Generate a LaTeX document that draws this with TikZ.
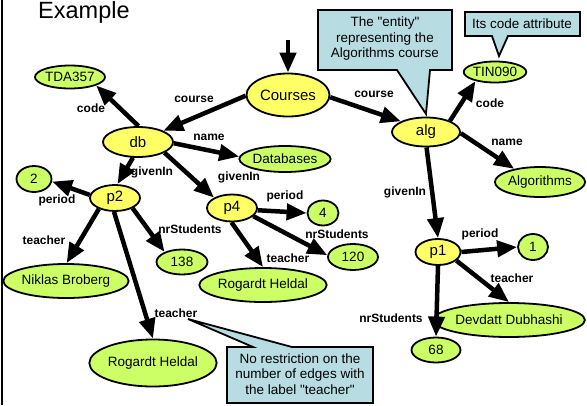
\documentclass[tikz,border=0pt]{standalone}
\usepackage{fontspec}
\setmainfont{Liberation Sans}
\newfontfamily\qf{Liberation Sans}
\usetikzlibrary{arrows.meta,shapes.geometric}
\definecolor{yel}{HTML}{FFFF66}
\definecolor{grn}{HTML}{CCFF66}
\definecolor{callc}{HTML}{B7DDE3}
\begin{document}
\begin{tikzpicture}[x=1pt,y=-1pt,
  ent/.style={ellipse, draw, line width=1.8pt, fill=yel, inner sep=0pt, font=\fontsize{15}{17}\selectfont},
  val/.style={ellipse, draw, line width=1.8pt, fill=grn, inner sep=0pt, font=\fontsize{13.5}{15}\selectfont},
  lab/.style={font=\bfseries\fontsize{12}{14}\selectfont, inner sep=0pt},
  edge/.style={line width=4.5pt, -{Triangle[length=20pt,width=16pt]}},
  callout/.style={draw, line width=1.8pt, fill=callc, line join=miter},
  ctext/.style={align=center, font=\qf\fontsize{13.5}{15.5}\selectfont, inner sep=0pt}]
\useasboundingbox (0,0) rectangle (587,405);
\fill[white] (0,0) rectangle (587,405);
\draw[line width=2pt] (2,0) -- (2,405);
\node[anchor=base west, font=\fontsize{23.5}{26}\selectfont, inner sep=0pt] (title) at (38,18) {Example};

% callouts
\path[callout] (318,10) -- (452,10) -- (452,70) -- (430,70) -- (426,114) -- (397,70) -- (318,70) -- cycle;
\node[ctext] (entitytxt) at (385,39) {The "entity"\\representing the\\Algorithms course};
\path[callout] (465,12) -- (580,12) -- (580,36) -- (508,36) -- (499,56) -- (492,36) -- (465,36) -- cycle;
\node[ctext] (codetxt) at (522,24) {Its code attribute};
\path[callout] (227,347) -- (253,347) -- (188,319) -- (292,347) -- (373,347) -- (373,403) -- (227,403) -- cycle;
\node[ctext] (teachtxt) at (300,374) {No restriction on the\\number of edges with\\the label "teacher"};

% nodes
\coordinate (top) at (288,40);
\node[ent, minimum width=83pt, minimum height=43pt] (C) at (288,95) {Courses};
\node[ent, minimum width=70pt, minimum height=30pt] (db) at (138,142) {db};
\node[val, minimum width=68pt, minimum height=23pt] (TDA) at (70,77) {TDA357};
\node[val, minimum width=80pt, minimum height=26pt] (DBs) at (285,159) {Databases};
\node[ent, minimum width=50pt, minimum height=26pt] (p2) at (115,198) {p2};
\node[val, minimum width=35pt, minimum height=26pt] (two) at (34,179) {2};
\node[ent, minimum width=50pt, minimum height=27pt] (p4) at (232,208) {p4};
\node[val, minimum width=31pt, minimum height=25pt] (four) at (323,213) {4};
\node[val, minimum width=50pt, minimum height=26pt] (n120) at (353,257) {120};
\node[val, minimum width=103pt, minimum height=34pt] (RH1) at (263,285) {Rogardt Heldal};
\node[val, minimum width=98pt, minimum height=34pt] (NB) at (66,281) {Niklas Broberg};
\node[val, minimum width=51pt, minimum height=25pt] (n138) at (182,262) {138};
\node[val, minimum width=120pt, minimum height=47pt] (RH2) at (153,363) {Rogardt Heldal};
\node[ent, minimum width=68pt, minimum height=29pt] (alg) at (426,132) {alg};
\node[val, minimum width=60pt, minimum height=21pt] (TIN) at (495,72) {TIN090};
\node[val, minimum width=75pt, minimum height=30pt] (Alg) at (540,182) {Algorithms};
\node[ent, minimum width=45pt, minimum height=26pt] (p1) at (438,252) {p1};
\node[val, minimum width=30pt, minimum height=26pt] (one) at (533,247) {1};
\node[val, minimum width=117pt, minimum height=34pt] (DD) at (509,320) {Devdatt Dubhashi};
\node[val, minimum width=49pt, minimum height=25pt] (n68) at (436,350) {68};

% edges
\draw[edge] (top) -- (C.north);
\draw[edge] (C.181) -- (db.24);
\draw[edge] (db.88) -- (TDA.-18);
\draw[edge] (db.-2) -- (DBs.177);
\draw[edge] (db.-108) -- (p2.80);
\draw[edge] (db.-22) -- (p4.150);
\draw[edge] (p2.173) -- (two.-8);
\draw[edge] (p2.-146) -- (NB.88);
\draw[edge] (p2.-30) -- (n138.150);
\draw[edge] (p2.-94) -- (RH2.north);
\draw[edge] (p4.-5) -- (four.180);
\draw[edge] (p4.-21) -- (n120.176);
\draw[edge] (p4.-92) -- (RH1.north);
\draw[edge] (C.-3) -- (alg.157);
\draw[edge] (alg.25) -- (TIN.-155);
\draw[edge] (alg.-2) -- (Alg.153);
\draw[edge] (alg.-88) -- (p1.north);
\draw[edge] (p1.east) -- (one.180);
\draw[edge] (p1.-25) -- (DD.north);
\draw[edge] (p1.south) -- (n68.north);

% edge labels
\node[lab] (l1) at (91,108) {code};
\node[lab] (l2) at (194,99) {course};
\node[lab] (l3) at (209,137) {name};
\node[lab] (l4) at (152,172) {givenIn};
\node[lab] (l5) at (239,177) {givenIn};
\node[lab] (l6) at (57,200) {period};
\node[lab] (l7) at (44,240) {teacher};
\node[lab] (l8) at (190,229) {nrStudents};
\node[lab] (l9) at (176,313) {teacher};
\node[lab] (l10) at (285,196) {period};
\node[lab] (l11) at (337,234) {nrStudents};
\node[lab] (l12) at (288,258) {teacher};
\node[lab] (l13) at (374,94) {course};
\node[lab] (l14) at (490,103) {code};
\node[lab] (l15) at (507,142) {name};
\node[lab] (l16) at (405,192) {givenIn};
\node[lab] (l17) at (480,234) {period};
\node[lab] (l18) at (512,278) {teacher};
\node[lab] (l19) at (391,318) {nrStudents};
\end{tikzpicture}
\end{document}
